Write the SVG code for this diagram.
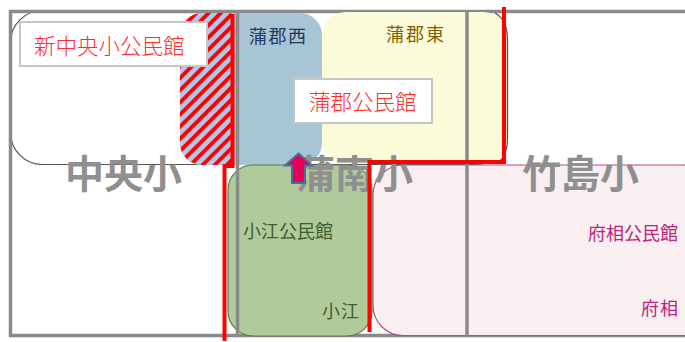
<svg xmlns="http://www.w3.org/2000/svg" width="685" height="342" viewBox="0 0 685 342">
<style>
text{font-family:"Noto Sans CJK JP","Noto Sans",sans-serif}
.big{font-size:39px;font-weight:700;fill:#8f8f8f}
.box{fill:#fff;stroke:#c6c6c6;stroke-width:2}
.lab{font-size:21.500px;font-weight:300;fill:#ff2a2a}
.sm{font-size:18px}
.red{fill:none;stroke:#f00;stroke-width:4}
.grid{fill:none;stroke:#8a8a8a;stroke-width:3.500}
</style>
<defs>
<pattern id="hatch" patternUnits="userSpaceOnUse" width="8.600" height="8.600" patternTransform="rotate(45)">
<rect width="8.600" height="8.600" fill="#b4c7e7"/>
<rect x="0" width="3.800" height="8.600" fill="#f00"/>
</pattern>
<clipPath id="hc"><rect x="178" y="10" width="53" height="157"/></clipPath>
</defs>
<rect width="685" height="342" fill="#fff"/>
<g id="chuo-outline"><rect x="10.500" y="10.500" width="497" height="154" rx="32" fill="#fff" stroke="#555" stroke-width="1.200"/></g>
<g id="outer-frame"><path class="grid" d="M685 11.500H10.500V335.500H685"/></g>
<g id="fuso"><rect x="373" y="165" width="340" height="170.500" rx="30" fill="#f9eff1" stroke="#b0508a" stroke-width="1.200"/>
<text x="588" y="240" class="sm" fill="#c0237e">府相公民館</text>
<text x="641" y="315" class="sm" fill="#c0237e" letter-spacing="1">府相</text></g>
<g id="kamagori-nishi"><rect x="180" y="13" width="142" height="152" rx="22" fill="#a8c5d6"/>
<rect x="180" y="13" width="142" height="152" rx="22" fill="url(#hatch)" clip-path="url(#hc)"/>
<text x="249" y="43" class="sm" fill="#1f3864" letter-spacing="1.500">蒲郡西</text></g>
<g id="kamagori-higashi"><rect x="322" y="12" width="185" height="152" rx="24" fill="#fbfad9"/>
<text x="386" y="41" class="sm" fill="#7f6000" letter-spacing="2">蒲郡東</text></g>
<g id="koe"><rect x="228" y="165" width="144" height="171" rx="25" fill="#b1ca9b" stroke="#5a7a4a" stroke-width="1.200"/>
<text x="243" y="238" class="sm" fill="#3f5f2f">小江公民館</text>
<text x="322" y="318" class="sm" fill="#3f5f2f" letter-spacing="1">小江</text></g>
<g id="grid-lines"><path class="grid" d="M237.500 11V336M467 11V336"/>
<path d="M495 13Q507.500 20 507.500 40V140Q507.500 155 498 163" fill="none" stroke="#555" stroke-width="1.200"/></g>
<g id="school-labels">
<text x="65" y="188" class="big">中央小</text>
<text x="296" y="188" class="big">蒲南小</text>
<text x="522" y="188" class="big">竹島小</text>
</g>
<g id="shin-chuo"><rect x="20" y="22" width="187" height="44" class="box"/><text x="34" y="54" class="lab">新中央小公民館</text></g>
<g id="kamagori-kominkan"><rect x="294" y="79" width="138" height="44" class="box"/><text x="309" y="110" class="lab">蒲郡公民館</text></g>
<g id="connectors">
<path class="red" d="M224.500 341V166H232.500V14"/>
<path class="red" d="M504 7V162H369.500V332"/>
<path d="M298.500 153.500L312 165.500H305V183H292V165.500H285Z" fill="#e6005c" stroke="#41719c" stroke-width="2"/>
</g>
</svg>
